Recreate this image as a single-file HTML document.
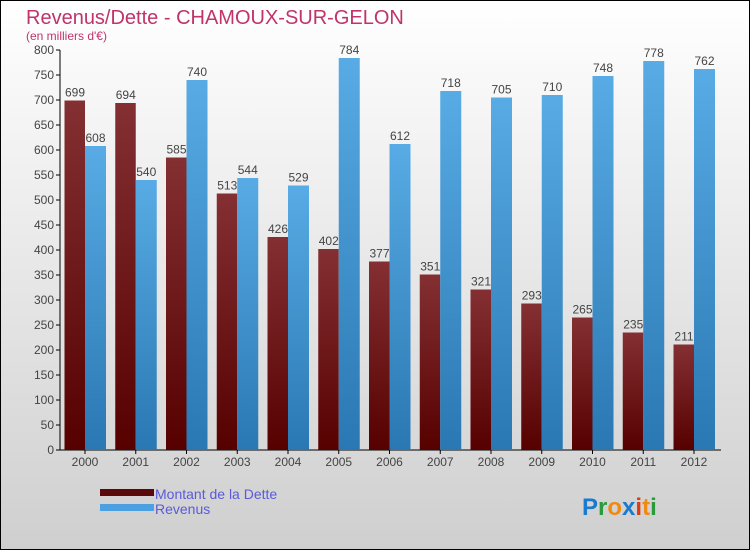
<!DOCTYPE html>
<html><head><meta charset="utf-8"><style>
body{margin:0;width:750px;height:550px;overflow:hidden;font-family:"Liberation Sans",sans-serif}
</style></head><body>
<svg width="750" height="550" xmlns="http://www.w3.org/2000/svg">
<defs>
<linearGradient id="bg" x1="0" y1="0" x2="0" y2="1"><stop offset="0" stop-color="#ffffff"/><stop offset="1" stop-color="#cfcfcf"/></linearGradient>
<linearGradient id="gd" x1="0" y1="0" x2="0" y2="1"><stop offset="0" stop-color="#843033"/><stop offset="1" stop-color="#560000"/></linearGradient>
<linearGradient id="gr" x1="0" y1="0" x2="0" y2="1"><stop offset="0" stop-color="#58abe4"/><stop offset="1" stop-color="#2a78b3"/></linearGradient>
</defs>
<rect x="0.5" y="0.5" width="749" height="549" fill="url(#bg)" stroke="#000"/>
<text x="26" y="24" font-size="20" fill="#c0336b">Revenus/Dette - CHAMOUX-SUR-GELON</text>
<text x="26" y="40" font-size="12" fill="#c0336b">(en milliers d'€)</text>
<g id="plot"></g>
<rect x="100" y="489" width="54" height="7" fill="#5a0a0a"/>
<text x="155" y="499" font-size="14" fill="#5a5adc">Montant de la Dette</text>
<rect x="100" y="504" width="54" height="7" fill="#4aa0e0"/>
<text x="155" y="514" font-size="14" fill="#5a5adc">Revenus</text>
<text x="582" y="515" font-size="24" font-weight="bold"><tspan fill="#1a7ad0">P</tspan><tspan fill="#2a9a3a">r</tspan><tspan fill="#f08a10">o</tspan><tspan fill="#1a7ad0">x</tspan><tspan fill="#e03a10">i</tspan><tspan fill="#f08a10">t</tspan><tspan fill="#2a9a3a">i</tspan></text>
</svg>
<script>
const years=["2000","2001","2002","2003","2004","2005","2006","2007","2008","2009","2010","2011","2012"];
const dette=[699,694,585,513,426,402,377,351,321,293,265,235,211];
const revenus=[608,540,740,544,529,784,612,718,705,710,748,778,762];
const ticks=[0,50,100,150,200,250,300,350,400,450,500,550,600,650,700,750,800];
const NS="http://www.w3.org/2000/svg";
const g=document.getElementById("plot");
const y=v=>450-v*0.5;
const xc=i=>85+i*50.75;
function mk(t,a){const e=document.createElementNS(NS,t);for(const k in a)e.setAttribute(k,a[k]);g.appendChild(e);return e;}
let ax=mk("line",{x1:60,y1:50,x2:60,y2:450,stroke:"#000"});


let bx=mk("line",{x1:60,y1:450,x2:721,y2:450,stroke:"#000"});


ticks.forEach(t=>{
 const l=mk("line",{x1:56,y1:y(t),x2:60,y2:y(t),stroke:"#000"});
 
 
 const tx=mk("text",{x:54,y:y(t)+4,"font-size":12,fill:"#444","text-anchor":"end"});
 tx.textContent=t;
 
 
});
years.forEach((yr,i)=>{
 const c=xc(i);
 const l=mk("line",{x1:c,y1:450,x2:c,y2:454,stroke:"#000"});
 
 
 const tx=mk("text",{x:c,y:466,"font-size":12,fill:"#444","text-anchor":"middle"});
 tx.textContent=yr;
 
 
 const b1=mk("rect",{x:c-20.5,y:y(dette[i]),width:20.5,height:450-y(dette[i]),fill:"url(#gd)"});
 
 
 const b2=mk("rect",{x:c,y:y(revenus[i]),width:21,height:450-y(revenus[i]),fill:"url(#gr)"});
 
 
 const v1=mk("text",{x:c-10,y:y(dette[i])-4,"font-size":12,fill:"#444","text-anchor":"middle"});
 v1.textContent=dette[i];
 
 
 const v2=mk("text",{x:c+10.5,y:y(revenus[i])-4,"font-size":12,fill:"#444","text-anchor":"middle"});
 v2.textContent=revenus[i];
 
 
});
</script>
</body></html>
